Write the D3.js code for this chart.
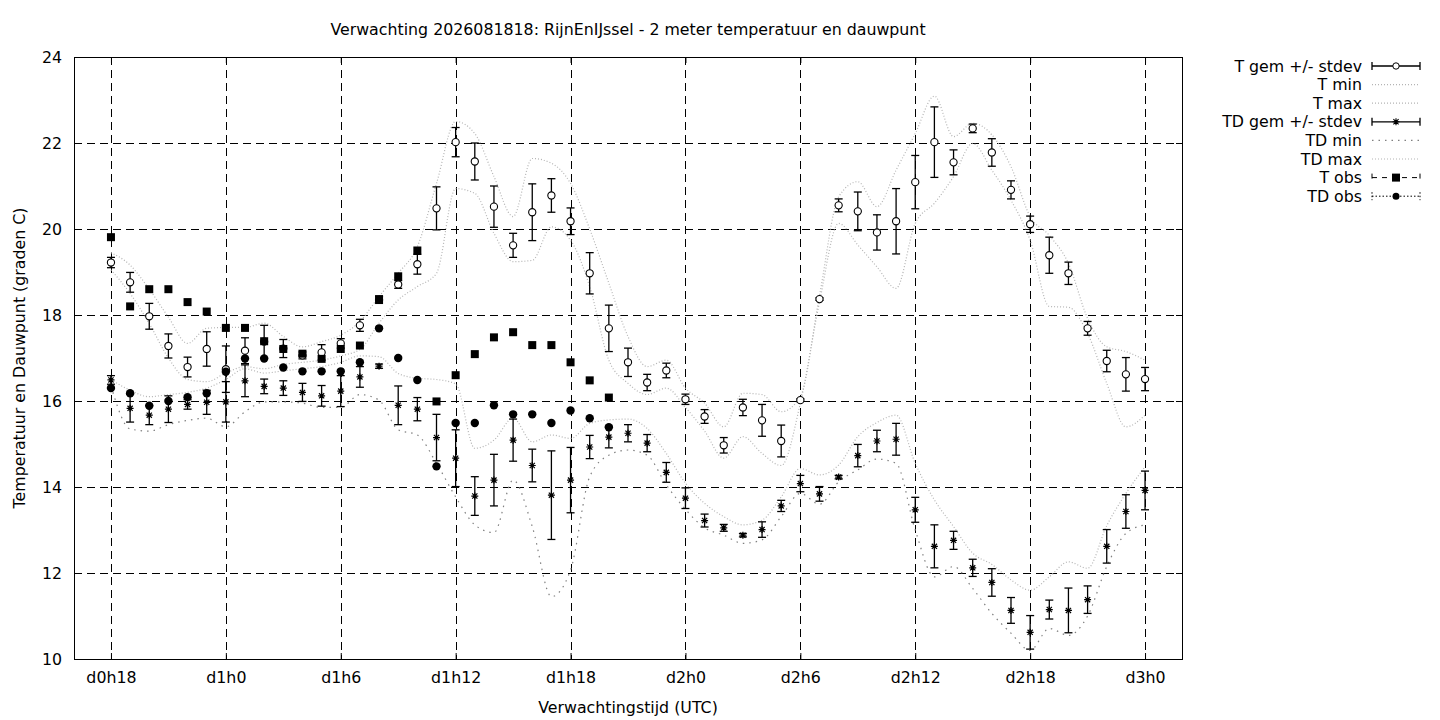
<!DOCTYPE html>
<html>
<head>
<meta charset="utf-8">
<script src="https://cdn.jsdelivr.net/npm/d3@7/dist/d3.min.js"></script>
<style>
  body { margin: 0; background: #fff; }
  svg { display: block; font-family: "DejaVu Sans", sans-serif; }
</style>
</head>
<body>
<svg id="chart" width="1440" height="720"></svg>
<script>
// forecast hours (hours since d0h0)
const hours = [18,19,20,21,22,23,24,25,26,27,28,29,30,31,32,33,34,35,36,37,38,39,40,41,42,43,44,45,
  46,47,48,49,50,51,52,53,54,55,56,57,58,59,60,61,62,63,64,65,66,67,68,69,70,71,72];

const tMean = [19.22,18.76,17.97,17.28,16.79,17.21,16.74,17.17,17.38,17.22,17.06,17.13,17.34,17.76,18.35,18.71,
  19.18,20.48,22.02,21.57,20.52,19.62,20.39,20.78,20.18,18.97,17.69,16.90,16.43,16.71,16.04,15.64,14.97,15.85,
  15.55,15.07,16.02,18.37,20.55,20.41,19.92,20.18,21.09,22.02,21.55,22.34,21.78,20.91,20.11,19.39,18.97,17.69,
  16.93,16.62,16.51];
const tSd = [0.12,0.23,0.30,0.28,0.23,0.40,0.54,0.30,0.38,0.21,0.08,0.18,0.11,0.14,0.08,0.09,0.23,0.50,0.34,
  0.43,0.48,0.28,0.66,0.39,0.31,0.48,0.54,0.33,0.19,0.17,0.12,0.16,0.18,0.19,0.37,0.37,0.03,0.03,0.15,0.45,
  0.41,0.76,0.62,0.82,0.29,0.10,0.32,0.21,0.19,0.42,0.26,0.16,0.25,0.39,0.27];
const tMin = [19.05,18.5,17.8,17.0,16.5,16.45,16.65,16.8,16.75,16.85,16.9,16.95,17.05,17.2,17.81,18.35,18.66,
  18.97,20.94,20.83,19.9,19.24,19.27,20.05,19.74,18.66,16.95,16.41,16.15,16.3,15.85,15.3,14.67,15.17,14.78,
  14.5,15.95,18.3,20.13,19.63,19.12,18.62,20.13,20.6,21.22,21.99,21.37,20.67,19.74,18.2,18.18,17.57,16.41,
  15.4,15.67];
const tMax = [19.45,19.16,18.6,17.95,17.34,17.69,17.71,17.71,17.81,17.5,17.26,17.38,17.53,17.85,18.43,18.97,
  19.59,21.06,22.5,22.22,21.22,20.29,21.64,21.53,21.06,20.0,18.74,17.5,16.8,16.95,16.3,15.95,15.4,16.18,
  16.15,15.75,16.1,18.45,20.75,21.1,20.52,21.37,22.22,23.09,22.15,22.46,22.19,21.45,20.29,19.85,19.2,17.92,
  17.26,17.15,16.95];

const tdMean = [16.49,15.83,15.67,15.81,15.92,15.97,15.98,16.47,16.34,16.30,16.20,16.12,16.23,16.56,16.81,
  15.90,15.81,15.15,14.67,13.79,14.16,15.09,14.50,13.81,14.16,14.93,15.16,15.25,15.02,14.34,13.74,13.22,
  13.05,12.88,13.01,13.56,14.08,13.84,14.23,14.73,15.07,15.11,13.47,12.62,12.76,12.12,11.78,11.13,10.62,
  11.15,11.13,11.38,12.62,13.43,13.92];
const tdSd = [0.10,0.32,0.22,0.31,0.11,0.28,0.47,0.37,0.17,0.17,0.21,0.24,0.36,0.24,0.05,0.45,0.27,0.54,0.66,
  0.45,0.60,0.49,0.38,1.03,0.76,0.27,0.25,0.20,0.20,0.23,0.24,0.15,0.08,0.04,0.18,0.13,0.19,0.17,0.04,0.26,
  0.25,0.37,0.29,0.50,0.21,0.20,0.32,0.30,0.39,0.22,0.52,0.32,0.39,0.39,0.45];
const tdMin = [16.35,15.35,15.3,15.45,15.55,15.6,15.4,15.75,15.98,15.98,15.95,15.85,15.85,16.15,16.02,15.33,
  15.21,14.55,13.77,13.12,12.94,14.16,13.08,11.45,12.07,14.24,14.74,14.86,14.74,14.05,13.48,13.05,12.88,
  12.69,12.77,13.31,13.85,13.6,14.12,14.4,14.65,14.55,13.0,11.91,12.15,11.64,11.06,10.6,10.2,10.71,10.55,
  11.0,12.15,12.92,13.12];
const tdMax = [16.5,16.25,16.1,16.15,16.2,16.3,16.5,16.75,16.65,16.7,16.75,16.8,16.9,17.05,17.03,16.64,16.53,
  16.5,16.4,14.9,15.09,15.6,15.05,15.21,15.13,15.48,15.56,15.58,15.36,14.78,14.09,13.62,13.31,13.12,13.23,
  13.77,14.43,14.28,14.51,15.17,15.5,15.67,14.55,13.7,13.08,12.46,12.2,11.84,11.6,11.91,12.26,12.11,13.1,
  13.85,14.47];

// observations only up to d1h20
const obsHours = hours.slice(0, 27);
const tObs = [19.81,18.20,18.60,18.60,18.30,18.08,17.70,17.70,17.39,17.21,17.10,16.98,17.21,17.29,18.37,18.90,
  19.50,15.99,16.60,17.09,17.48,17.60,17.30,17.30,16.90,16.48,16.08];
const tdObs = [16.30,16.18,15.89,16.00,16.09,16.18,16.68,16.99,16.99,16.78,16.69,16.69,16.69,16.90,17.69,17.00,
  16.49,14.48,15.49,15.49,15.90,15.69,15.69,15.49,15.78,15.60,15.39];

const tickHours = [18,24,30,36,42,48,54,60,66,72];
const tickLabels = ["d0h18","d1h0","d1h6","d1h12","d1h18","d2h0","d2h6","d2h12","d2h18","d3h0"];
const yTicks = [10,12,14,16,18,20,22,24];

const pLeft = 74, pRight = 1182, pTop = 57, pBottom = 659;
const fs = 15.8;
const svg = d3.select('#chart');

const x = d3.scaleLinear().domain([16.07, 73.93]).range([pLeft, pRight]);
const y = d3.scaleLinear().domain([10, 24]).range([pBottom, pTop]);

// grid
const grid = svg.append('g').attr('stroke', '#000').attr('stroke-width', 1).attr('stroke-dasharray', '8,5');
grid.selectAll('.gx').data(tickHours).join('line')
  .attr('x1', d => Math.round(x(d)) + 0.5).attr('x2', d => Math.round(x(d)) + 0.5)
  .attr('y1', pTop).attr('y2', pBottom);
grid.selectAll('.gy').data(yTicks.filter(d => d > 10 && d < 24)).join('line')
  .attr('y1', d => Math.round(y(d)) + 0.5).attr('y2', d => Math.round(y(d)) + 0.5)
  .attr('x1', pLeft).attr('x2', pRight);

// axes (ticks inward, mirrored)
const axisFont = g => g.selectAll('text').attr('font-family', '"DejaVu Sans", sans-serif').attr('font-size', fs).attr('fill', '#000');
svg.append('g').attr('transform', `translate(0,${pBottom})`)
  .call(d3.axisBottom(x).tickValues(tickHours).tickFormat((d, i) => tickLabels[i]).tickSizeInner(-6).tickSizeOuter(0).tickPadding(13))
  .call(g => g.select('.domain').remove()).call(axisFont);
svg.append('g').attr('transform', `translate(0,${pTop})`)
  .call(d3.axisTop(x).tickValues(tickHours).tickFormat('').tickSizeInner(-6).tickSizeOuter(0))
  .call(g => g.select('.domain').remove());
svg.append('g').attr('transform', `translate(${pLeft},0)`)
  .call(d3.axisLeft(y).tickValues(yTicks).tickSizeInner(-6).tickSizeOuter(0).tickPadding(12))
  .call(g => g.select('.domain').remove()).call(axisFont);
svg.append('g').attr('transform', `translate(${pRight},0)`)
  .call(d3.axisRight(y).tickValues(yTicks).tickFormat('').tickSizeInner(-6).tickSizeOuter(0))
  .call(g => g.select('.domain').remove());

svg.append('rect').attr('x', pLeft + 0.5).attr('y', pTop + 0.5)
  .attr('width', pRight - pLeft).attr('height', pBottom - pTop)
  .attr('fill', 'none').attr('stroke', '#000').attr('stroke-width', 1);

// min / max dotted lines
function rangeLine(vals, color, dash) {
  svg.append('path').datum(vals)
    .attr('fill', 'none').attr('stroke', color).attr('stroke-width', 1.2)
    .attr('stroke-dasharray', dash)
    .attr('d', d3.line().x((d, i) => x(hours[i])).y(d => y(d)).curve(d3.curveMonotoneX));
}
rangeLine(tMin, '#b4b4b4', '1,2');
rangeLine(tMax, '#b4b4b4', '1,2');
rangeLine(tdMin, '#808080', '1.5,5');
rangeLine(tdMax, '#b4b4b4', '1,2');

// error bars
function errBars(means, sds) {
  const g = svg.append('g').attr('stroke', '#000').attr('stroke-width', 1.3);
  g.selectAll('line.v').data(means).join('line')
    .attr('x1', (d, i) => x(hours[i])).attr('x2', (d, i) => x(hours[i]))
    .attr('y1', (d, i) => y(d + sds[i])).attr('y2', (d, i) => y(d - sds[i]));
  g.selectAll('line.t').data(means).join('line')
    .attr('x1', (d, i) => x(hours[i]) - 4).attr('x2', (d, i) => x(hours[i]) + 4)
    .attr('y1', (d, i) => y(d + sds[i])).attr('y2', (d, i) => y(d + sds[i]));
  g.selectAll('line.b').data(means).join('line')
    .attr('x1', (d, i) => x(hours[i]) - 4).attr('x2', (d, i) => x(hours[i]) + 4)
    .attr('y1', (d, i) => y(d - sds[i])).attr('y2', (d, i) => y(d - sds[i]));
}
errBars(tMean, tSd);
errBars(tdMean, tdSd);

// symbols
const starPath = 'M-3.5,0H3.5M0,-3.5V3.5M-2.6,-2.6L2.6,2.6M-2.6,2.6L2.6,-2.6';
svg.append('g').selectAll('path').data(tdMean).join('path')
  .attr('transform', (d, i) => `translate(${x(hours[i])},${y(d)})`)
  .attr('d', starPath).attr('stroke', '#000').attr('stroke-width', 1.2);
svg.append('g').selectAll('circle').data(tMean).join('circle')
  .attr('cx', (d, i) => x(hours[i])).attr('cy', d => y(d)).attr('r', 3.6)
  .attr('fill', '#fff').attr('stroke', '#000').attr('stroke-width', 1.1);
svg.append('g').selectAll('rect').data(tObs).join('rect')
  .attr('x', (d, i) => x(obsHours[i]) - 4).attr('y', d => y(d) - 4)
  .attr('width', 8).attr('height', 8).attr('fill', '#000');
svg.append('g').selectAll('circle').data(tdObs).join('circle')
  .attr('cx', (d, i) => x(obsHours[i])).attr('cy', d => y(d)).attr('r', 4.2).attr('fill', '#000');

// titles
svg.append('text').attr('x', 628).attr('y', 35).attr('text-anchor', 'middle').attr('font-size', fs)
  .text('Verwachting 2026081818: RijnEnIJssel - 2 meter temperatuur en dauwpunt');
svg.append('text').attr('x', 628).attr('y', 713).attr('text-anchor', 'middle').attr('font-size', fs)
  .text('Verwachtingstijd (UTC)');
svg.append('text').attr('transform', `translate(25,${(pTop + pBottom) / 2}) rotate(-90)`)
  .attr('text-anchor', 'middle').attr('font-size', fs)
  .text('Temperatuur en Dauwpunt (graden C)');

// legend
const legendItems = [
  { label: 'T gem +/- stdev', kind: 'tgem' },
  { label: 'T min', kind: 'tmin' },
  { label: 'T max', kind: 'tmax' },
  { label: 'TD gem +/- stdev', kind: 'tdgem' },
  { label: 'TD min', kind: 'tdmin' },
  { label: 'TD max', kind: 'tdmax' },
  { label: 'T obs', kind: 'tobs' },
  { label: 'TD obs', kind: 'tdobs' }
];
const lx0 = 1372, lx1 = 1420, lxm = 1396;
const leg = svg.append('g');
legendItems.forEach((it, i) => {
  const cy = 66 + i * 18.6;
  leg.append('text').attr('x', 1362).attr('y', cy + 5.5).attr('text-anchor', 'end')
    .attr('font-size', fs).text(it.label);
  const g = leg.append('g').attr('fill', 'none');
  if (it.kind === 'tgem' || it.kind === 'tdgem') {
    g.append('path').attr('d', `M${lx0},${cy}H${lx1}M${lx0},${cy - 4}V${cy + 4}M${lx1},${cy - 4}V${cy + 4}`)
      .attr('stroke', '#000').attr('stroke-width', 1.3);
    if (it.kind === 'tgem') {
      g.append('circle').attr('cx', lxm).attr('cy', cy).attr('r', 3.2).attr('fill', '#fff').attr('stroke', '#000');
    } else {
      g.append('path').attr('transform', `translate(${lxm},${cy})`).attr('d', starPath)
        .attr('stroke', '#000').attr('stroke-width', 1.1);
    }
  } else if (it.kind === 'tobs' || it.kind === 'tdobs') {
    const dash = it.kind === 'tobs' ? '5,5' : '1.5,2';
    g.append('path').attr('d', `M${lx0},${cy}H${lx1}M${lx0},${cy - 4}V${cy + 4}M${lx1},${cy - 4}V${cy + 4}`)
      .attr('stroke', '#000').attr('stroke-width', 1).attr('stroke-dasharray', dash);
    if (it.kind === 'tobs') {
      g.append('rect').attr('x', lxm - 4).attr('y', cy - 4).attr('width', 8).attr('height', 8).attr('fill', '#000');
    } else {
      g.append('circle').attr('cx', lxm).attr('cy', cy).attr('r', 3.5).attr('fill', '#000');
    }
  } else {
    const isTdMin = it.kind === 'tdmin';
    g.append('line').attr('x1', lx0).attr('x2', lx1).attr('y1', cy).attr('y2', cy)
      .attr('stroke', isTdMin ? '#808080' : '#b4b4b4').attr('stroke-width', 1.2)
      .attr('stroke-dasharray', isTdMin ? '1.5,5' : '1,2');
  }
});
</script>
</body>
</html>
